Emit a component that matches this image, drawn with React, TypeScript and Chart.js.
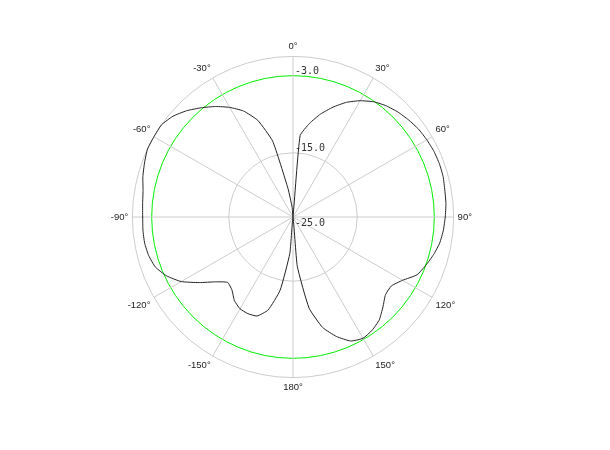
import React, { useEffect, useRef } from "react";
import Chart from "chart.js/auto";

// azimuth in degrees, radar order (clockwise from top)
const angles = [
  0, 5, 10, 15, 20, 25, 30, 35, 40, 45, 50, 55, 60, 65, 70, 75, 80, 85,
  90, 95, 100, 105, 110, 115, 120, 125, 130, 135, 140, 145, 150, 155, 160, 165, 170, 175,
  180, -175, -170, -165, -160, -155, -150, -145, -140, -135, -130, -125, -120, -115, -110, -105, -100, -95,
  -90, -85, -80, -75, -70, -65, -60, -55, -50, -45, -40, -35, -30, -25, -20, -15, -10, -5,
];

// measured pattern (dB)
const gainDb = [
  -25, -12.3, -10.2, -8.4, -6.8, -5.3, -4.1, -3.1, -2.4, -1.9, -1.5, -1.15, -0.95, -0.8, -0.75, -0.8, -1.0, -1.1,
  -1.3, -1.5, -1.8, -2.35, -3.0, -3.7, -5.3, -6.3, -6.2, -5.2, -4.1, -3.5, -3.2, -3.7, -5.2, -7.2, -10.6, -17.3,
  -25, -19.3, -13.4, -10.0, -8.6, -8.4, -8.5, -9.1, -10.2, -10.6, -9.3, -7.2, -4.9, -3.3, -2.2, -1.75, -1.55, -1.55,
  -1.6, -1.5, -1.3, -0.8, -0.4, 0, 0, 0, -0.6, -1.6, -2.8, -4.0, -5.3, -6.8, -9.0, -12.8, -20.5, -23.5,
];

const ringValues = [-25, -15, -3, 0];
const labelledRings = [-25, -15, -3];
const halfPowerDb = -3;

const tickLabelPlugin = {
  id: "tickLabels",
  afterDraw(chart: any) {
    const scale = chart.scales.r;
    const ctx = chart.ctx;
    ctx.save();
    ctx.font = '10px "DejaVu Sans Mono"';
    ctx.fillStyle = "#333";
    ctx.textAlign = "left";
    labelledRings.forEach((v) => {
      const d = scale.getDistanceFromCenterForValue(v);
      const x = scale.xCenter + 2;
      if (v === scale.min) {
        ctx.textBaseline = "top";
        ctx.fillText(v.toFixed(1), x, scale.yCenter + 1);
      } else {
        ctx.textBaseline = "bottom";
        ctx.fillText(v.toFixed(1), x, scale.yCenter - d + 1);
      }
    });
    ctx.restore();
  },
};

export default function App() {
  const ref = useRef<HTMLCanvasElement | null>(null);
  useEffect(() => {
    if (!ref.current) return;
    const chart = new Chart(ref.current, {
      type: "radar",
      data: {
        labels: angles.map((a) => `${a}°`),
        datasets: [
          {
            data: gainDb,
            borderColor: "#222",
            borderWidth: 1,
            pointRadius: 0,
            fill: false,
            tension: 0.15,
          },
        ],
      },
      options: {
        animation: false,
        responsive: true,
        maintainAspectRatio: false,
        layout: { padding: { left: 93, right: 117, top: 41, bottom: 57 } },
        plugins: { legend: { display: false }, tooltip: { enabled: false } },
        scales: {
          r: {
            min: -25,
            max: 0,
            afterBuildTicks: (scale: any) => {
              scale.ticks = ringValues.map((value) => ({ value }));
            },
            ticks: { display: false },
            grid: {
              circular: true,
              color: (ctx: any) => (ctx.tick && ctx.tick.value === halfPowerDb ? "#00ee00" : "#cccccc"),
              lineWidth: 1,
            },
            angleLines: {
              color: "#cccccc",
              lineWidth: (ctx: any) => (ctx.index % 6 === 0 ? 1 : 0),
            },
            pointLabels: {
              padding: 4,
              color: "#222",
              font: { family: '"Liberation Sans", Arial', size: 9.5 },
              callback: (label: string, index: number) => (index % 6 === 0 ? label : ""),
            },
          },
        },
      },
      plugins: [tickLabelPlugin],
    });
    return () => chart.destroy();
  }, []);
  return (
    <div style={{ position: "absolute", left: 0, top: 0, width: 610, height: 450, background: "#fff" }}>
      <canvas ref={ref} />
    </div>
  );
}
